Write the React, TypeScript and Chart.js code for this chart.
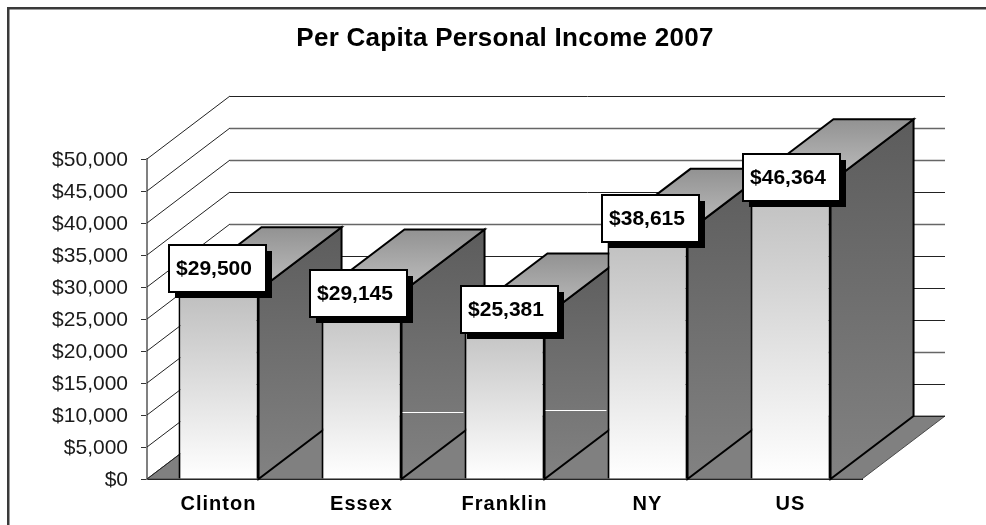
import React, { useEffect, useRef } from "react";
import { Chart, registerables } from "chart.js";

Chart.register(...registerables);

const categories = ["Clinton", "Essex", "Franklin", "NY", "US"];
const incomes = [29500, 29145, 25381, 38615, 46364];
const yMax = 50000;
const yStep = 5000;
const chartTitle = "Per Capita Personal Income 2007";
// stray white lines between neighbouring bars: [index of left bar, value]
const whiteLines = [[1, 10469], [2, 10734]];
// hand placed offset of each callout from its bar top
const calloutDx = [-1.5, -3.5, 5, 2.5, 0.5];
const calloutDy = [-22, 1, -7, -13, -5];
// gridline values that look softer in the reference
const softGrid = [45000, 40000, 30000, 10000];

const DEPTH_X = 83;
const DEPTH_Y = 63;
const FONT = "'Liberation Sans', Arial, sans-serif";

function poly(ctx: CanvasRenderingContext2D, pts: number[][]) {
  ctx.beginPath();
  pts.forEach((p, i) => (i ? ctx.lineTo(p[0], p[1]) : ctx.moveTo(p[0], p[1])));
  ctx.closePath();
}

function withSpacing(obj: any, method: string, ctx: any, spacing: string) {
  if (!obj || obj["__spaced_" + method]) return;
  const orig = obj[method];
  obj[method] = function (...args: any[]) {
    ctx.letterSpacing = spacing;
    orig.apply(this, args);
    ctx.letterSpacing = "0px";
  };
  obj["__spaced_" + method] = true;
}

const scene = {
  id: "scene3d",
  beforeDraw(chart: any) {
    const { ctx, width, height } = chart;
    ctx.save();
    ctx.fillStyle = "#ffffff";
    ctx.fillRect(0, 0, width, height);
    ctx.fillStyle = "#3a3a3a";
    ctx.fillRect(7, 7, width - 7, 2.5);
    ctx.fillRect(7, 7, 2.5, height - 7);
    ctx.restore();
    if (chart.titleBlock) {
      chart.titleBlock.left = 24;
      chart.titleBlock.right = width;
    }
    withSpacing(chart.titleBlock, "draw", ctx, "0.27px");
    withSpacing(chart.scales.x, "drawLabels", ctx, "1px");
  },
  beforeDatasetsDraw(chart: any) {
    const { ctx, chartArea: a, scales } = chart;
    const y = scales.y;
    const bottom = y.getPixelForValue(0);
    ctx.save();
    // floor
    poly(ctx, [
      [a.left, bottom],
      [a.right, bottom],
      [a.right + DEPTH_X, bottom - DEPTH_Y],
      [a.left + DEPTH_X, bottom - DEPTH_Y],
    ]);
    ctx.fillStyle = "#808080";
    ctx.fill();
    ctx.strokeStyle = "#4a4a4a";
    ctx.lineWidth = 1;
    ctx.stroke();
    // wall gridlines
    y.ticks.forEach((t: any) => {
      const py = Math.round(y.getPixelForValue(t.value));
      const soft = softGrid.includes(t.value);
      ctx.strokeStyle = "#222222";
      ctx.lineWidth = 1;
      ctx.beginPath();
      ctx.moveTo(a.left, py);
      ctx.lineTo(a.left + DEPTH_X, py - DEPTH_Y);
      ctx.stroke();
      ctx.strokeStyle = soft ? "#666666" : "#222222";
      ctx.lineWidth = soft ? 1.6 : 1;
      ctx.beginPath();
      ctx.moveTo(a.left + DEPTH_X, py - DEPTH_Y + 0.5);
      ctx.lineTo(a.right + DEPTH_X, py - DEPTH_Y + 0.5);
      ctx.stroke();
    });
    // bar sides and tops, left to right
    const meta = chart.getDatasetMeta(0);
    meta.data.forEach((bar: any) => {
      const half = bar.width / 2;
      const l = bar.x - half;
      const r = bar.x + half;
      const top = bar.y;
      const side = ctx.createLinearGradient(0, top - DEPTH_Y, 0, bottom);
      side.addColorStop(0, "#5c5c5c");
      side.addColorStop(1, "#828282");
      poly(ctx, [
        [r, top],
        [r + DEPTH_X, top - DEPTH_Y],
        [r + DEPTH_X, bottom - DEPTH_Y],
        [r, bottom],
      ]);
      ctx.fillStyle = side;
      ctx.fill();
      ctx.strokeStyle = "#000000";
      ctx.lineWidth = 2;
      ctx.stroke();
      const cap = ctx.createLinearGradient(0, top - DEPTH_Y, 0, top);
      cap.addColorStop(0, "#929292");
      cap.addColorStop(1, "#c0c0c0");
      poly(ctx, [
        [l, top],
        [l + DEPTH_X, top - DEPTH_Y],
        [r + DEPTH_X, top - DEPTH_Y],
        [r, top],
      ]);
      ctx.fillStyle = cap;
      ctx.fill();
      ctx.stroke();
    });
    // stray white lines
    ctx.strokeStyle = "#ffffff";
    ctx.lineWidth = 1;
    whiteLines.forEach(([i, v]) => {
      const b1 = meta.data[i];
      const b2 = meta.data[i + 1];
      const py = Math.round(y.getPixelForValue(v)) + 0.5;
      ctx.beginPath();
      ctx.moveTo(b1.x + b1.width / 2 + 1, py);
      ctx.lineTo(b2.x - b2.width / 2 - 1, py);
      ctx.stroke();
    });
    ctx.restore();
  },
  afterDatasetsDraw(chart: any) {
    const { ctx } = chart;
    const meta = chart.getDatasetMeta(0);
    ctx.save();
    meta.data.forEach((bar: any, i: number) => {
      const w = 97;
      const h = 47;
      const cx = bar.x + calloutDx[i];
      const cy = bar.y + calloutDy[i];
      const x = Math.round(cx - w / 2);
      const yy = Math.round(cy - h / 2);
      ctx.fillStyle = "#000000";
      ctx.fillRect(x + 6, yy + 6, w, h);
      ctx.fillStyle = "#ffffff";
      ctx.fillRect(x, yy, w, h);
      ctx.strokeStyle = "#000000";
      ctx.lineWidth = 2;
      ctx.strokeRect(x, yy, w, h);
      ctx.fillStyle = "#000000";
      ctx.font = `bold 21px ${FONT}`;
      ctx.textAlign = "center";
      ctx.textBaseline = "middle";
      ctx.fillText("$" + incomes[i].toLocaleString("en-US"), x + w / 2 - 3.5, yy + h / 2 + 0.5);
    });
    ctx.restore();
  },
};

export default function App() {
  const ref = useRef<HTMLCanvasElement>(null);
  useEffect(() => {
    const chart = new Chart(ref.current as HTMLCanvasElement, {
      type: "bar",
      data: {
        labels: categories,
        datasets: [
          {
            data: incomes,
            barPercentage: 0.56,
            categoryPercentage: 1,
            borderColor: "#000000",
            borderWidth: 2,
            backgroundColor: (c: any) => {
              const area = c.chart.chartArea;
              const scale = c.chart.scales.y;
              if (!area || !scale || c.dataIndex === undefined) return "#cccccc";
              const top = scale.getPixelForValue(incomes[c.dataIndex]);
              if (!Number.isFinite(top) || !Number.isFinite(area.bottom)) return "#cccccc";
              const g = c.chart.ctx.createLinearGradient(0, top, 0, area.bottom);
              g.addColorStop(0, "#bebebe");
              g.addColorStop(1, "#ffffff");
              return g;
            },
          },
        ],
      },
      options: {
        responsive: false,
        animation: false,
        layout: { padding: { left: 0, right: 124, top: 0, bottom: 0 } },
        plugins: {
          legend: { display: false },
          tooltip: { enabled: false },
          title: {
            display: true,
            text: chartTitle,
            color: "#000000",
            font: { family: FONT, size: 26, weight: "bold", lineHeight: 1.2 },
            padding: { top: 23, bottom: 104.8 },
          },
        },
        scales: {
          x: {
            grid: { display: false },
            border: { color: "#000000", width: 2 },
            afterFit: (s: any) => {
              s.height = 46;
            },
            ticks: {
              color: "#000000",
              font: { family: FONT, size: 20, weight: "bold" },
              padding: 5,
              maxRotation: 0,
              autoSkip: false,
            },
          },
          y: {
            min: 0,
            max: yMax,
            grid: { drawOnChartArea: false, color: "#333333", tickLength: 6 },
            border: { color: "#808080", width: 2 },
            afterFit: (s: any) => {
              s.width = 147;
            },
            ticks: {
              stepSize: yStep,
              color: "#1a1a1a",
              font: { family: FONT, size: 21 },
              padding: 13,
              labelOffset: 1.5,
              callback: (v: any) => "$" + Number(v).toLocaleString("en-US"),
            },
          },
        },
      },
      plugins: [scene],
    } as any);
    return () => chart.destroy();
  }, []);
  return (
    <canvas
      ref={ref}
      width={986}
      height={525}
      style={{ position: "fixed", left: 0, top: 0, width: 986, height: 525, display: "block" }}
    />
  );
}
